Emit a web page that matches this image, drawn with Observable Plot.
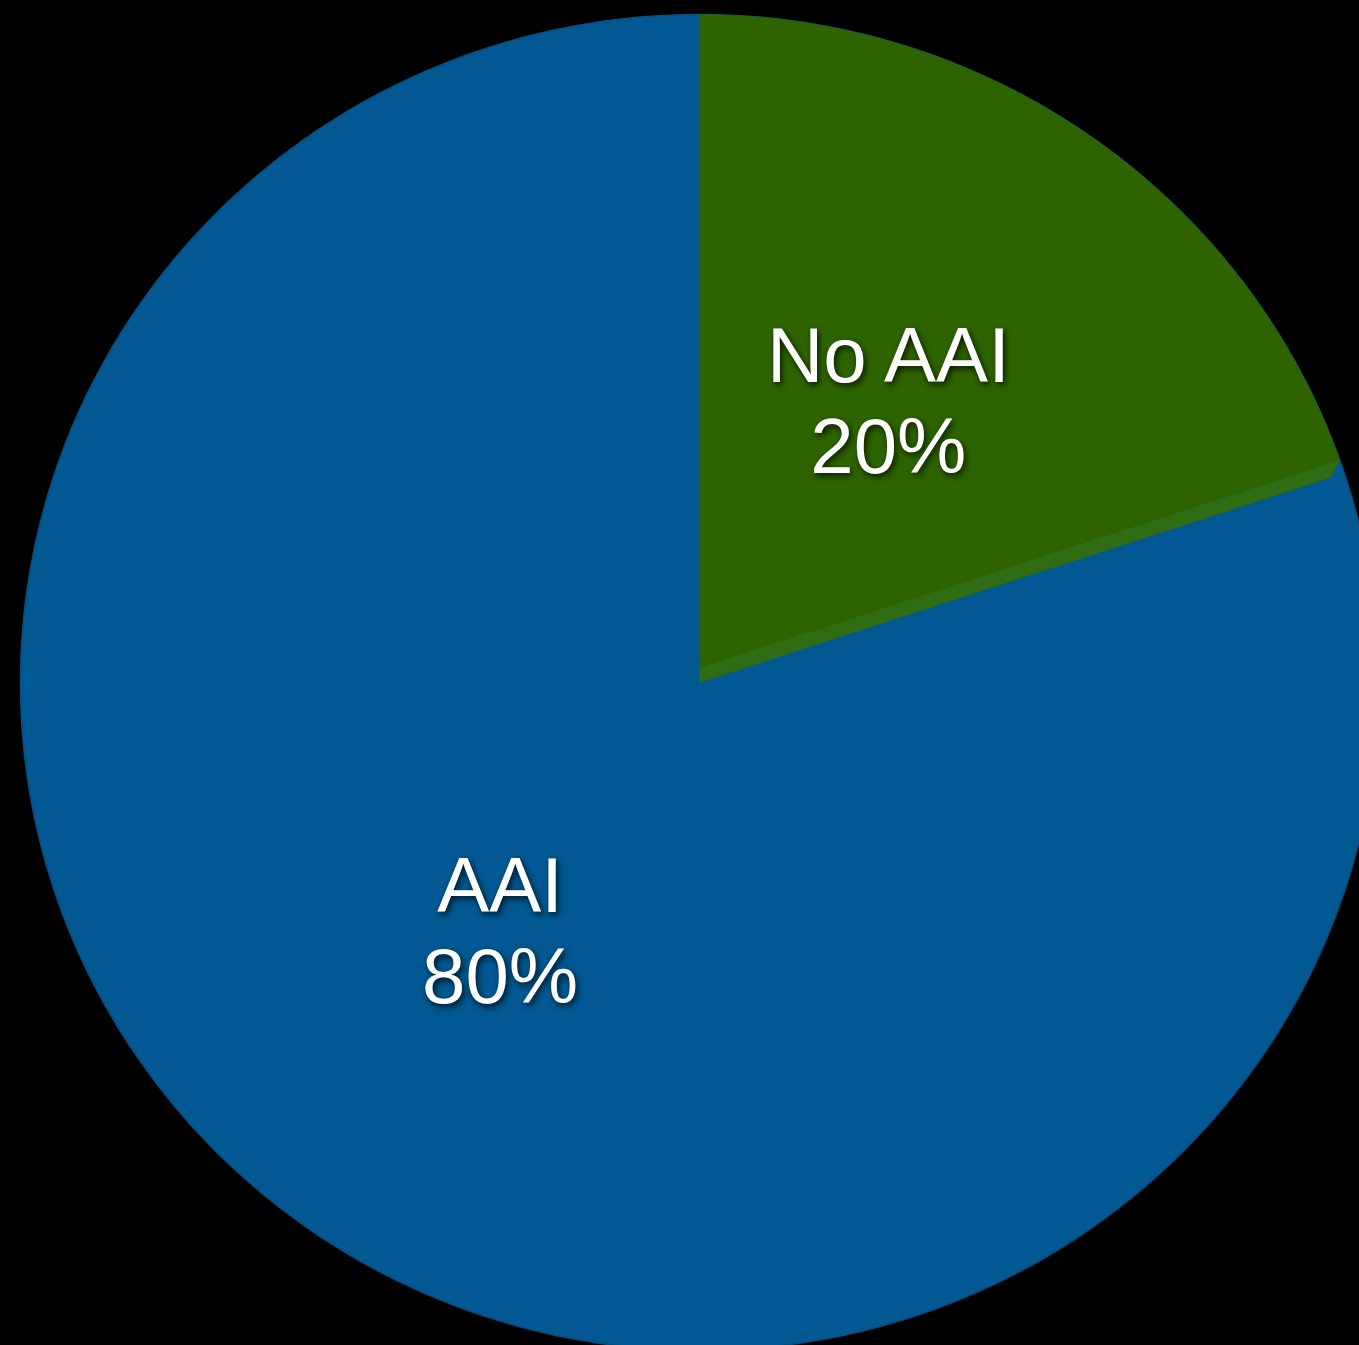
<!DOCTYPE html>
<html>
<head>
<meta charset="utf-8">
<script src="https://cdn.jsdelivr.net/npm/d3@7"></script>
<script src="https://cdn.jsdelivr.net/npm/@observablehq/plot@0.6"></script>
<style>
  html, body { margin: 0; padding: 0; background: #000; overflow: hidden; }
  #chart svg text { filter: drop-shadow(2px 3px 3px rgba(0,0,0,0.75)); }
</style>
</head>
<body>
<div id="chart"></div>
<script>
// ---- data ----
const categories = ["No AAI", "AAI"];
const shares = [20, 80];
const shareLabels = ["20%", "80%"];
const sliceColors = ["#2d6400", "#015892"];
const bevelColor = "#2f6c13";

// ---- layout ----
const W = 1359, H = 1345;
const cx = 699, cy = 682;      // pie centre in pixels
const rx = 679, ry = 668;      // slightly tilted pie (ellipse)
const depth = 15;              // lift of the first slice (3D edge)

const total = d3.sum(shares);
const angles = [];
{
  let a = 0;
  for (const s of shares) { const b = a + s / total * 2 * Math.PI; angles.push([a, b]); a = b; }
}

function ellPt(t) { return {x: rx * Math.sin(t), y: ry * Math.cos(t)}; }
function arcPts(t0, t1, n) {
  const pts = [];
  for (let i = 0; i <= n; i++) pts.push(ellPt(t0 + (t1 - t0) * i / n));
  return pts;
}
// intersect ray from (0, y0) with direction angle th (clockwise from north) with the ellipse
function rayHit(y0, th) {
  const dx = Math.sin(th), dy = Math.cos(th);
  const A = dx*dx/(rx*rx) + dy*dy/(ry*ry);
  const B = 2*y0*dy/(ry*ry);
  const C = y0*y0/(ry*ry) - 1;
  const s = (-B + Math.sqrt(B*B - 4*A*C)) / (2*A);
  return {x: s*dx, y: y0 + s*dy, s};
}

// full base ellipse (the large slice shows here)
const basePts = arcPts(0, 2 * Math.PI, 720);

// first slice: lifted top face
const [g0, g1] = angles[0];
const hit = rayHit(depth, g1);
const tEnd = Math.atan2(hit.x / rx, hit.y / ry);
const topFace = [{x: 0, y: depth}, ...arcPts(g0, tEnd, 200), {x: 0, y: depth}];
// edge band below the lifted face
const bLen = hit.s - 9;
const bevel = [
  {x: 0, y: 0}, {x: 0, y: depth}, {x: hit.x, y: hit.y},
  {x: bLen * Math.sin(g1), y: bLen * Math.cos(g1)}, {x: 0, y: 0}
];

// labels near mid-angle
const labelR = 0.48;
const labelTurn = [-0.01, 0.03];  // small angular nudge (radians)
const labels = categories.map((c, i) => {
  const m = (angles[i][0] + angles[i][1]) / 2 + labelTurn[i];
  return {
    x: labelR * rx * Math.sin(m),
    y: labelR * ry * Math.cos(m) + (i === 0 ? depth : 0),
    text: c + "\n" + shareLabels[i]
  };
});

const plot = Plot.plot({
  width: W, height: H,
  margin: 0,
  style: {background: "#000"},
  x: {domain: [-cx, W - cx], axis: null},
  y: {domain: [-(H - cy), cy], axis: null},
  marks: [
    Plot.line(basePts, {x: "x", y: "y", fill: sliceColors[1], stroke: "#0a4c7c", strokeWidth: 1.5, clip: true}),
    Plot.line(bevel, {x: "x", y: "y", fill: bevelColor, stroke: bevelColor, strokeWidth: 0.5, clip: true}),
    Plot.line(topFace, {x: "x", y: "y", fill: sliceColors[0], stroke: sliceColors[0], strokeWidth: 0.5, clip: true}),
    Plot.text(labels, {
      x: "x", y: "y", text: "text", dy: -8,
      fill: "white", fontSize: 78, lineHeight: 1.17,
      fontFamily: "'Liberation Sans', Arial, sans-serif",
      textAnchor: "middle", lineAnchor: "middle"
    })
  ]
});
document.getElementById("chart").appendChild(plot);
</script>
</body>
</html>
